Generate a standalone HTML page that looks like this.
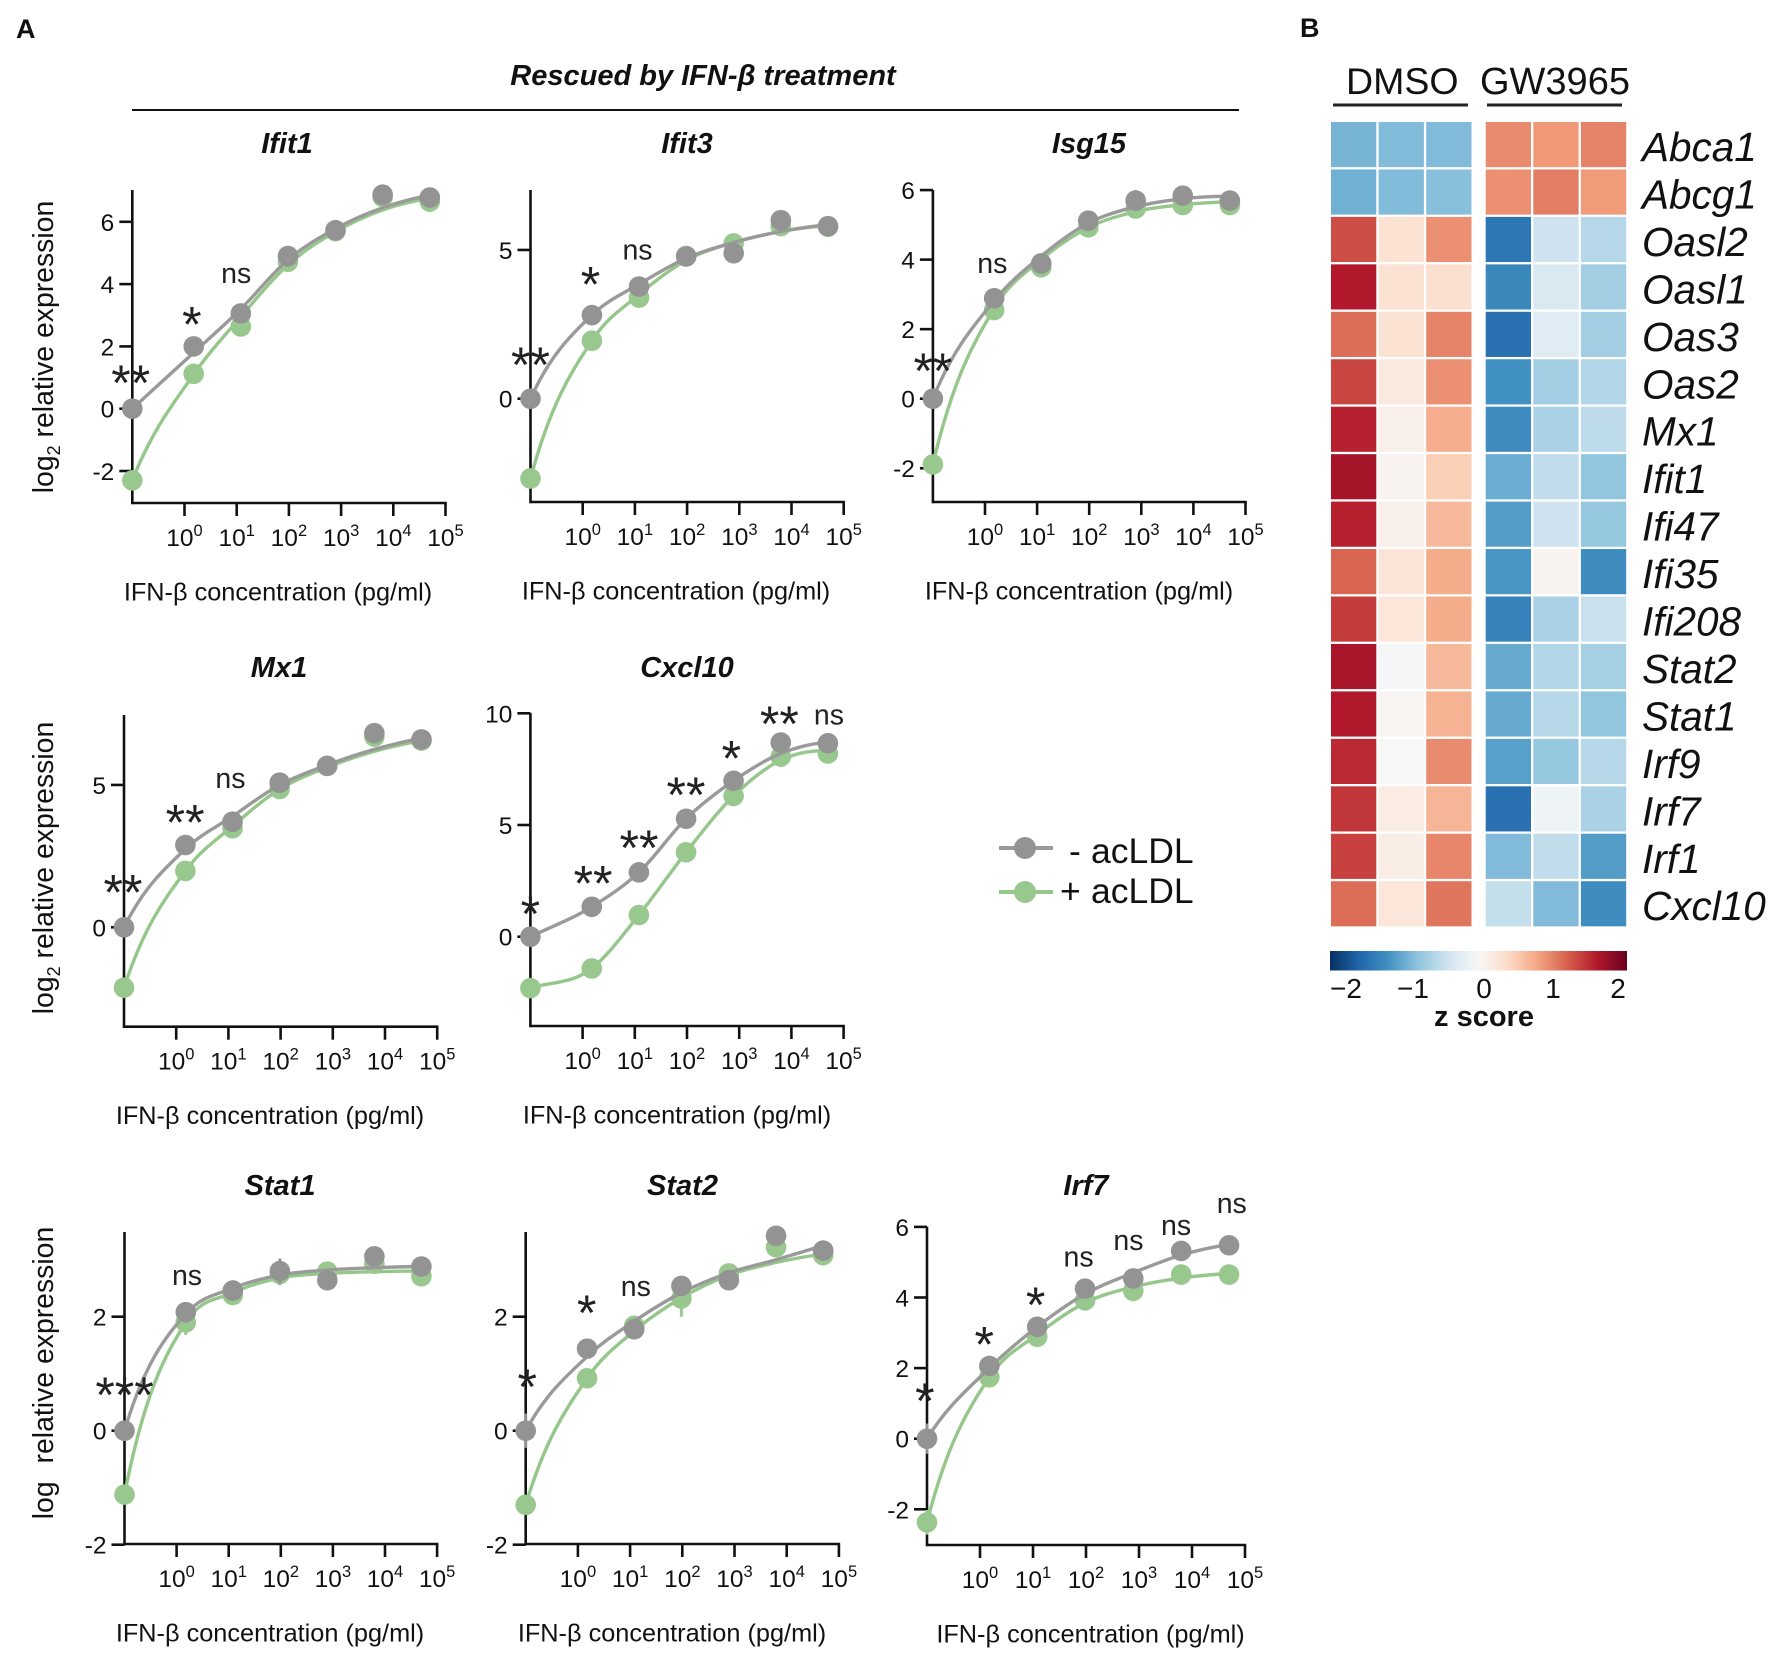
<!DOCTYPE html>
<html lang="en">
<head>
<meta charset="utf-8">
<title>IFN-β dose response and z score heatmap</title>
<style>
html,body{margin:0;padding:0;background:#fff;}
svg{display:block;font-family:"Liberation Sans",sans-serif;fill:#111;}
</style>
</head>
<body>
<svg id="figure" xmlns="http://www.w3.org/2000/svg" width="1772" height="1654" viewBox="0 0 1772 1654">
  <rect x="0" y="0" width="1772" height="1654" fill="#fff"/>
  <text x="16" y="38" font-size="27" font-weight="bold">A</text>
  <text x="1300" y="37" font-size="27" font-weight="bold">B</text>
  <text x="703" y="85" font-size="29" font-weight="bold" font-style="italic" text-anchor="middle">Rescued by IFN-β treatment</text>
  <line x1="132" y1="110" x2="1239" y2="110" stroke="#111" stroke-width="2"/>

  <g>
    <line x1="999" y1="848" x2="1053" y2="848" stroke="#9a9a9a" stroke-width="4"/>
    <circle cx="1025" cy="848" r="11" fill="#939393"/>
    <text y="863" font-size="35.5"><tspan x="1069">-</tspan><tspan x="1091">acLDL</tspan></text>
    <line x1="999" y1="892" x2="1053" y2="892" stroke="#95c78b" stroke-width="4"/>
    <circle cx="1025" cy="892" r="11" fill="#99c88f"/>
    <text y="903" font-size="35.5"><tspan x="1060">+</tspan><tspan x="1091">acLDL</tspan></text>
  </g>

  <g>
    <text x="1346" y="94" font-size="37.5">DMSO</text>
    <line x1="1333" y1="105" x2="1468" y2="105" stroke="#222" stroke-width="3"/>
    <text x="1480" y="94" font-size="38">GW3965</text>
    <line x1="1487" y1="105" x2="1622" y2="105" stroke="#222" stroke-width="3"/>
  </g>
  <g id="heatmap"></g>

  <defs><linearGradient id="zGradient" x1="0" x2="1" y1="0" y2="0"></linearGradient></defs>
  <g>
    <rect x="1330" y="951" width="297" height="19.5" fill="url(#zGradient)"/>
    <text x="1346" y="998" font-size="28" text-anchor="middle">−2</text>
    <text x="1413" y="998" font-size="28" text-anchor="middle">−1</text>
    <text x="1484" y="998" font-size="28" text-anchor="middle">0</text>
    <text x="1553" y="998" font-size="28" text-anchor="middle">1</text>
    <text x="1618" y="998" font-size="28" text-anchor="middle">2</text>
    <text x="1484" y="1026" font-size="29" font-weight="bold" text-anchor="middle">z score</text>
  </g>
  <g id="panels"></g>
</svg>
<script>
// ---------- shared x data ----------
const concentrations = [0, 1.5, 12, 96, 780, 6250, 50000];
const xTickExponents = [0, 1, 2, 3, 4, 5];

// ---------- Ifit1 ----------
const ifit1Gray = [0, 2.0, 3.06, 4.9, 5.73, 6.87, 6.78];
const ifit1Green = [-2.3, 1.12, 2.64, 4.72, 5.7, 6.8, 6.65];
const ifit1GrayFit = [0, 1.8, 3.2, 4.78, 5.78, 6.45, 6.85];
const ifit1GreenFit = [-2.3, 1.1, 2.95, 4.62, 5.68, 6.38, 6.75];
const ifit1Ticks = [-2, 0, 2, 4, 6];
const ifit1Sig = ['**', '*', 'ns'];
const ifit1SigX = [-1.03, 0.14, 0.99];
const ifit1SigY = [1.05, 2.93, 4.3];

// ---------- Ifit3 ----------
const ifit3Gray = [0, 2.81, 3.77, 4.78, 4.89, 6.0, 5.8];
const ifit3Green = [-2.68, 1.95, 3.4, 4.8, 5.22, 5.8, 5.78];
const ifit3GrayFit = [0, 2.81, 3.85, 4.72, 5.25, 5.62, 5.85];
const ifit3GreenFit = [-2.68, 1.95, 3.5, 4.65, 5.25, 5.62, 5.82];
const ifit3Ticks = [0, 5];
const ifit3Sig = ['**', '*', 'ns'];
const ifit3SigX = [-1, 0.15, 1.05];
const ifit3SigY = [1.37, 4.08, 4.95];

// ---------- Isg15 ----------
const isg15Gray = [0, 2.89, 3.89, 5.12, 5.7, 5.84, 5.7];
const isg15Green = [-1.89, 2.55, 3.78, 4.93, 5.47, 5.57, 5.57];
const isg15GrayFit = [0, 2.82, 4.1, 5.05, 5.52, 5.75, 5.82];
const isg15GreenFit = [-1.89, 2.6, 4.0, 4.92, 5.38, 5.58, 5.66];
const isg15Ticks = [-2, 0, 2, 4, 6];
const isg15Sig = ['**', 'ns'];
const isg15SigX = [-1, 0.14];
const isg15SigY = [1.0, 3.85];
const isg15GrayErr = [0, 0, 0, 0, 0.3, 0, 0];

// ---------- Mx1 ----------
const mx1Gray = [0, 2.89, 3.71, 5.08, 5.67, 6.82, 6.6];
const mx1Green = [-2.12, 1.98, 3.48, 4.86, 5.67, 6.7, 6.56];
const mx1GrayFit = [0, 2.75, 3.9, 5.0, 5.7, 6.25, 6.65];
const mx1GreenFit = [-2.12, 1.98, 3.55, 4.85, 5.62, 6.18, 6.55];
const mx1Ticks = [0, 5];
const mx1Sig = ['**', '**', 'ns'];
const mx1SigX = [-1.02, 0.17, 1.04];
const mx1SigY = [1.47, 3.92, 5.18];

// ---------- Cxcl10 ----------
const cxcl10Gray = [0, 1.34, 2.88, 5.28, 6.98, 8.69, 8.66];
const cxcl10Green = [-2.3, -1.42, 0.97, 3.78, 6.3, 8.06, 8.2];
const cxcl10GrayFit = [0, 1.34, 2.88, 5.28, 6.98, 8.2, 8.7];
const cxcl10GreenFit = [-2.3, -1.42, 0.97, 3.78, 6.3, 7.9, 8.3];
const cxcl10Ticks = [0, 5, 10];
const cxcl10Sig = ['*', '**', '**', '**', '*', '**', 'ns'];
const cxcl10SigX = [-1, 0.2, 1.08, 1.98, 2.85, 3.77, 4.72];
const cxcl10SigY = [1.34, 2.69, 4.28, 6.66, 8.28, 9.83, 9.85];

// ---------- Stat1 ----------
const stat1Gray = [0, 2.08, 2.46, 2.8, 2.64, 3.06, 2.88];
const stat1Green = [-1.12, 1.9, 2.38, 2.75, 2.79, 2.93, 2.71];
const stat1GrayFit = [0, 2.05, 2.5, 2.73, 2.82, 2.86, 2.88];
const stat1GreenFit = [-1.12, 1.9, 2.42, 2.68, 2.76, 2.79, 2.8];
const stat1Ticks = [-2, 0, 2];
const stat1Sig = ['***', 'ns'];
const stat1SigX = [-1, 0.2];
const stat1SigY = [0.75, 2.7];
const stat1GrayErr = [0, 0, 0, 0.22, 0, 0, 0];
const stat1GreenErr = [0, 0.22, 0, 0.2, 0, 0.1, 0];

// ---------- Stat2 ----------
const stat2Gray = [0, 1.44, 1.78, 2.54, 2.64, 3.42, 3.16];
const stat2Green = [-1.3, 0.92, 1.84, 2.32, 2.76, 3.22, 3.08];
const stat2GrayFit = [0, 1.3, 1.92, 2.42, 2.77, 3.0, 3.25];
const stat2GreenFit = [-1.3, 0.92, 1.75, 2.33, 2.73, 2.95, 3.1];
const stat2Ticks = [-2, 0, 2];
const stat2Sig = ['*', '*', 'ns'];
const stat2SigX = [-0.97, 0.17, 1.11];
const stat2SigY = [0.89, 2.19, 2.5];
const stat2GrayErr = [0.3, 0, 0, 0, 0, 0, 0];
const stat2GreenErr = [0, 0, 0, 0.32, 0, 0.15, 0];

// ---------- Irf7 ----------
const irf7Gray = [0, 2.06, 3.17, 4.25, 4.54, 5.32, 5.48];
const irf7Green = [-2.37, 1.74, 2.89, 3.92, 4.19, 4.65, 4.65];
const irf7GrayFit = [0, 2.0, 3.17, 4.1, 4.7, 5.2, 5.5];
const irf7GreenFit = [-2.37, 1.74, 2.95, 3.85, 4.3, 4.55, 4.68];
const irf7Ticks = [-2, 0, 2, 4, 6];
const irf7Sig = ['*', '*', '*', 'ns', 'ns', 'ns', 'ns'];
const irf7SigX = [-1.04, 0.08, 1.05, 1.86, 2.8, 3.7, 4.75];
const irf7SigY = [1.26, 2.86, 3.98, 5.1, 5.57, 6.0, 6.62];
const irf7GrayErr = [0.43, 0, 0, 0, 0, 0, 0];
const irf7GreenErr = [0.35, 0, 0, 0, 0.3, 0, 0];

// ---------- heatmap ----------
const geneNames = ['Abca1','Abcg1','Oasl2','Oasl1','Oas3','Oas2','Mx1','Ifit1','Ifi47','Ifi35','Ifi208','Stat2','Stat1','Irf9','Irf7','Irf1','Cxcl10'];
const zAbca1 = [-0.93,-0.88,-0.88,0.95,0.87,1.0];
const zAbcg1 = [-0.97,-0.88,-0.85,0.92,1.03,0.85];
const zOasl2 = [1.3,0.3,0.92,-1.45,-0.42,-0.58];
const zOasl1 = [1.6,0.3,0.33,-1.3,-0.32,-0.7];
const zOas3 = [1.12,0.3,1.0,-1.5,-0.25,-0.7];
const zOas2 = [1.35,0.2,0.92,-1.22,-0.7,-0.6];
const zMx1 = [1.55,0.12,0.73,-1.25,-0.65,-0.52];
const zIfit1 = [1.67,0.06,0.5,-1.0,-0.5,-0.8];
const zIfi47 = [1.56,0.12,0.65,-1.12,-0.42,-0.78];
const zIfi35 = [1.17,0.28,0.75,-1.18,0.06,-1.25];
const zIfi208 = [1.4,0.25,0.75,-1.35,-0.65,-0.45];
const zStat2 = [1.65,-0.02,0.65,-1.02,-0.6,-0.68];
const zStat1 = [1.6,0.04,0.7,-1.02,-0.58,-0.8];
const zIrf9 = [1.5,0.0,0.95,-1.1,-0.78,-0.58];
const zIrf7 = [1.43,0.17,0.68,-1.5,-0.1,-0.65];
const zIrf1 = [1.37,0.14,0.98,-0.88,-0.5,-1.12];
const zCxcl10 = [1.12,0.25,1.08,-0.48,-0.88,-1.25];
const zRows = [zAbca1,zAbcg1,zOasl2,zOasl1,zOas3,zOas2,zMx1,zIfit1,zIfi47,zIfi35,zIfi208,zStat2,zStat1,zIrf9,zIrf7,zIrf1,zCxcl10];
const rdbuPalette = ['#053061','#2166ac','#4393c3','#92c5de','#d1e5f0','#f7f7f7','#fddbc7','#f4a582','#d6604d','#b2182b','#67001f'];

const NS = 'http://www.w3.org/2000/svg';
function mk(tag, attrs, parent) {
  const el = document.createElementNS(NS, tag);
  for (const k in attrs) el.setAttribute(k, attrs[k]);
  if (parent) parent.appendChild(el);
  return el;
}

// ---------- colour scale ----------
function hexRgb(h) { return [1,3,5].map(i => parseInt(h.substr(i,2),16)); }
function zColor(z) {
  const t = Math.max(0, Math.min(1, (z + 2) / 4)) * (rdbuPalette.length - 1);
  const i = Math.min(rdbuPalette.length - 2, Math.floor(t));
  const a = hexRgb(rdbuPalette[i]), b = hexRgb(rdbuPalette[i+1]), f = t - i;
  return 'rgb(' + a.map((v,j) => Math.round(v + (b[j]-v)*f)).join(',') + ')';
}
const grad = document.getElementById('zGradient');
rdbuPalette.forEach((c, i) => {
  mk('stop', {offset: (i/(rdbuPalette.length-1)), 'stop-color': c}, grad);
});

// ---------- heatmap ----------
const heat = document.getElementById('heatmap');
const heatTop = 122, rowStep = 47.45, colStep = 47.6, cellGap = 2.3;
const colLeft = [1331, 1378.6, 1426.2, 1485.7, 1533.3, 1580.9];
zRows.forEach((row, r) => {
  row.forEach((z, c) => {
    const cell = mk('rect', {x: colLeft[c], y: heatTop + r*rowStep, width: colStep-cellGap, height: rowStep-cellGap, fill: zColor(z)}, heat);
    
    
  });
  const lab = mk('text', {x: 1642, y: heatTop + r*rowStep + 39, 'font-size': 40.5, 'font-style': 'italic'}, heat);
  lab.textContent = geneNames[r];
  
  
});

// ---------- dose response panels ----------
function smoothPath(px, py) {
  const n = px.length, m = [], d = [], h = [];
  for (let i = 0; i < n-1; i++) { h[i] = px[i+1]-px[i]; d[i] = (py[i+1]-py[i])/h[i]; }
  for (let i = 1; i < n-1; i++) m[i] = (h[i]*d[i-1] + h[i-1]*d[i])/(h[i-1]+h[i]);
  if (Math.abs(d[0]) > 1.3*Math.abs(d[1])) {
    m[0] = (d[0] + (h[0]/(h[0]+h[1]))*(d[0]-d[1])) * 1.25;
  } else {
    m[0] = d[0];
  }
  m[n-1] = d[n-2] + (h[n-2]/(h[n-2]+h[n-3]))*(d[n-2]-d[n-3]);
  let s = 'M' + px[0].toFixed(1) + ',' + py[0].toFixed(1);
  for (let i = 0; i < n-1; i++) {
    const t = h[i]/3;
    s += 'C' + (px[i]+t).toFixed(1) + ',' + (py[i]+m[i]*t).toFixed(1) + ' ' + (px[i+1]-t).toFixed(1) + ',' + (py[i+1]-m[i+1]*t).toFixed(1) + ' ' + px[i+1].toFixed(1) + ',' + py[i+1].toFixed(1);
  }
  return s;
}

function drawPanel(p) {
  const key = p.title.toLowerCase();
  const g = mk('g', {}, document.getElementById('panels'));
  
  

  const xScale = v => p.axisX + (v + 1) * p.decade;
  const yScale = v => p.zeroY - v * p.unit;
  const xOfConc = c => xScale(c > 0 ? Math.log10(c) : -1);

  const title = mk('text', {x: p.titleX, y: p.titleY, 'font-size': 29, 'font-weight': 'bold', 'font-style': 'italic', 'text-anchor': 'middle'}, g);
  title.textContent = p.title;
  
  

  const yAxis = mk('line', {x1: p.axisX, x2: p.axisX, y1: p.top, y2: p.bottom + 1.25, stroke: '#111', 'stroke-width': 2.6}, g);
  
  
  const xAxis = mk('line', {x1: p.axisX, x2: xScale(5) + 1.25, y1: p.bottom, y2: p.bottom, stroke: '#111', 'stroke-width': 2.6}, g);
  
  

  p.yTicks.forEach(v => {
    const t = mk('line', {x1: p.axisX - 13, x2: p.axisX, y1: yScale(v), y2: yScale(v), stroke: '#111', 'stroke-width': 2.6}, g);
    
    
    const l = mk('text', {x: p.axisX - 18, y: yScale(v) + 9, 'font-size': 24.5, 'text-anchor': 'end'}, g);
    l.textContent = String(v);
    
    
  });
  xTickExponents.forEach(e => {
    const t = mk('line', {x1: xScale(e), x2: xScale(e), y1: p.bottom, y2: p.bottom + 13, stroke: '#111', 'stroke-width': 2.6}, g);
    
    
    const l = mk('text', {x: xScale(e), y: p.bottom + 43, 'font-size': 24.5, 'text-anchor': 'middle'}, g);
    l.textContent = '10';
    const sup = mk('tspan', {dy: -10, 'font-size': 16.5}, l);
    sup.textContent = String(e);
    
    
  });

  const xl = mk('text', {x: p.xLabelX, y: p.bottom + 97.5, 'font-size': 25.3, 'text-anchor': 'middle'}, g);
  xl.textContent = 'IFN-β concentration (pg/ml)';
  
  

  if (p.yLabelY) {
    const yl = mk('text', {transform: 'translate(53 ' + p.yLabelY + ') rotate(-90)', 'font-size': 28.4, 'text-anchor': 'middle'}, g);
    
    
    yl.appendChild(document.createTextNode('log'));
    const sub = mk('tspan', {dy: 7, 'font-size': 18, fill: p.subHidden ? '#fff' : '#111'}, yl);
    sub.textContent = '2';
    const rest = mk('tspan', {dy: -7}, yl);
    rest.textContent = ' relative expression';
  }

  [['green', p.greenFit, p.green, p.greenErr, '#95c78b', '#99c88f'],
   ['gray', p.grayFit, p.gray, p.grayErr, '#9a9a9a', '#939393']].forEach(s => {
    const name = s[0];
    const curve = mk('path', {d: smoothPath(concentrations.map(xOfConc), s[1].map(yScale)), fill: 'none', stroke: s[4], 'stroke-width': 3.4}, g);
    
    
    s[2].forEach((v, i) => {
      const err = s[3] ? s[3][i] : 0;
      if (err) {
        const w = mk('line', {x1: xOfConc(concentrations[i]), x2: xOfConc(concentrations[i]), y1: yScale(v + err), y2: yScale(v - err), stroke: s[5], 'stroke-width': 3}, g);
        
        
      }
      const dot = mk('circle', {cx: xOfConc(concentrations[i]), cy: yScale(v), r: 10.3, fill: s[5]}, g);
      
      
    });
  });

  p.sig.forEach((txt, i) => {
    const isNs = txt === 'ns';
    const t = mk('text', {x: xScale(p.sigX[i]), y: yScale(p.sigY[i]) + (isNs ? 8 : 24), 'font-size': isNs ? 28.5 : 50, 'text-anchor': 'middle', fill: '#222'}, g);
    t.textContent = txt;
    
    
  });
}

drawPanel({title:'Ifit1', titleX:287, titleY:153, axisX:132.3, decade:52.2, zeroY:408.7, unit:31.15, top:190, bottom:503, xLabelX:278, yLabelY:347,
  yTicks:ifit1Ticks, gray:ifit1Gray, green:ifit1Green, grayFit:ifit1GrayFit, greenFit:ifit1GreenFit, sig:ifit1Sig, sigX:ifit1SigX, sigY:ifit1SigY});
drawPanel({title:'Ifit3', titleX:687, titleY:153, axisX:530.5, decade:52.2, zeroY:398.7, unit:29.75, top:190, bottom:502, xLabelX:676,
  yTicks:ifit3Ticks, gray:ifit3Gray, green:ifit3Green, grayFit:ifit3GrayFit, greenFit:ifit3GreenFit, sig:ifit3Sig, sigX:ifit3SigX, sigY:ifit3SigY});
drawPanel({title:'Isg15', titleX:1089, titleY:153, axisX:932.9, decade:52.1, zeroY:398.7, unit:34.77, top:190, bottom:502, xLabelX:1079,
  yTicks:isg15Ticks, gray:isg15Gray, green:isg15Green, grayFit:isg15GrayFit, greenFit:isg15GreenFit, grayErr:isg15GrayErr, sig:isg15Sig, sigX:isg15SigX, sigY:isg15SigY});
drawPanel({title:'Mx1', titleX:279, titleY:677, axisX:124, decade:52.2, zeroY:927.3, unit:28.47, top:715, bottom:1026.7, xLabelX:270, yLabelY:868,
  yTicks:mx1Ticks, gray:mx1Gray, green:mx1Green, grayFit:mx1GrayFit, greenFit:mx1GreenFit, sig:mx1Sig, sigX:mx1SigX, sigY:mx1SigY});
drawPanel({title:'Cxcl10', titleX:687, titleY:677, axisX:530.4, decade:52.2, zeroY:936.7, unit:22.34, top:713, bottom:1026, xLabelX:677,
  yTicks:cxcl10Ticks, gray:cxcl10Gray, green:cxcl10Green, grayFit:cxcl10GrayFit, greenFit:cxcl10GreenFit, sig:cxcl10Sig, sigX:cxcl10SigX, sigY:cxcl10SigY});
drawPanel({title:'Stat1', titleX:280, titleY:1195, axisX:124.5, decade:52.1, zeroY:1430.7, unit:57, top:1232, bottom:1544, xLabelX:270, yLabelY:1373, subHidden:true,
  yTicks:stat1Ticks, gray:stat1Gray, green:stat1Green, grayFit:stat1GrayFit, greenFit:stat1GreenFit, grayErr:stat1GrayErr, greenErr:stat1GreenErr, sig:stat1Sig, sigX:stat1SigX, sigY:stat1SigY});
drawPanel({title:'Stat2', titleX:682.5, titleY:1195, axisX:525.7, decade:52.2, zeroY:1430.7, unit:57, top:1232, bottom:1544, xLabelX:672,
  yTicks:stat2Ticks, gray:stat2Gray, green:stat2Green, grayFit:stat2GrayFit, greenFit:stat2GreenFit, grayErr:stat2GrayErr, greenErr:stat2GreenErr, sig:stat2Sig, sigX:stat2SigX, sigY:stat2SigY});
drawPanel({title:'Irf7', titleX:1086, titleY:1195, axisX:927, decade:53, zeroY:1438.7, unit:35.3, top:1226.7, bottom:1545, xLabelX:1090.5,
  yTicks:irf7Ticks, gray:irf7Gray, green:irf7Green, grayFit:irf7GrayFit, greenFit:irf7GreenFit, grayErr:irf7GrayErr, greenErr:irf7GreenErr, sig:irf7Sig, sigX:irf7SigX, sigY:irf7SigY});
</script>
</body>
</html>
